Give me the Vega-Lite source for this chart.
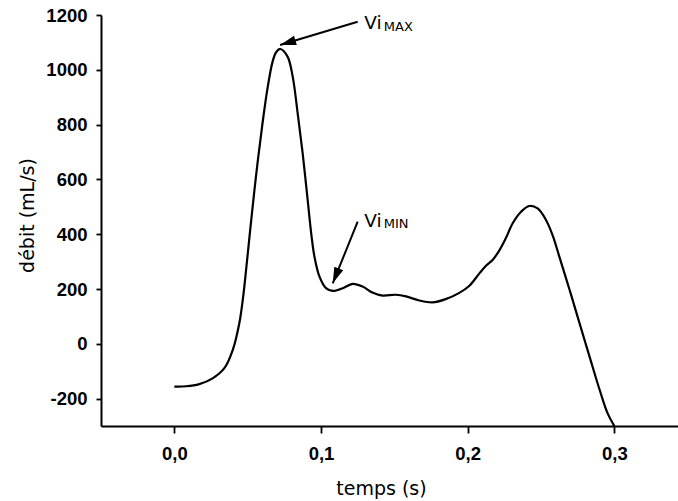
{
  "$schema": "https://vega.github.io/schema/vega-lite/v6.json",
  "width": 577,
  "height": 411,
  "autosize": {"type": "none"},
  "padding": {"left": 101, "top": 15, "right": 0, "bottom": 75},
  "background": "white",
  "config": {
    "view": {"stroke": null},
    "axis": {
      "grid": false,
      "domainColor": "black",
      "domainWidth": 2,
      "tickColor": "black",
      "tickWidth": 1.8,
      "labelFont": "Liberation Sans",
      "labelFontWeight": "bold",
      "labelFontSize": 18.5,
      "labelColor": "black",
      "titleFont": "DejaVu Sans",
      "titleFontWeight": "normal",
      "titleFontSize": 19,
      "titleColor": "black"
    }
  },
  "datasets": {
    "curve": [
      {"t": 0.0, "v": -156}, {"t": 0.008, "v": -155}, {"t": 0.017, "v": -147},
      {"t": 0.0261, "v": -126}, {"t": 0.0341, "v": -89}, {"t": 0.0398, "v": -23},
      {"t": 0.0443, "v": 75}, {"t": 0.047, "v": 175}, {"t": 0.0495, "v": 300},
      {"t": 0.052, "v": 430}, {"t": 0.0545, "v": 555}, {"t": 0.057, "v": 672},
      {"t": 0.060, "v": 800}, {"t": 0.0636, "v": 935}, {"t": 0.067, "v": 1030},
      {"t": 0.0695, "v": 1065}, {"t": 0.0723, "v": 1076}, {"t": 0.0772, "v": 1048},
      {"t": 0.0807, "v": 975}, {"t": 0.0841, "v": 841}, {"t": 0.0875, "v": 695},
      {"t": 0.0909, "v": 525}, {"t": 0.0935, "v": 395}, {"t": 0.0955, "v": 319},
      {"t": 0.0989, "v": 246}, {"t": 0.1034, "v": 203}, {"t": 0.108, "v": 193},
      {"t": 0.1148, "v": 203}, {"t": 0.1216, "v": 219}, {"t": 0.1284, "v": 209},
      {"t": 0.135, "v": 187}, {"t": 0.142, "v": 176}, {"t": 0.151, "v": 179},
      {"t": 0.158, "v": 173}, {"t": 0.167, "v": 158}, {"t": 0.176, "v": 151},
      {"t": 0.185, "v": 163}, {"t": 0.194, "v": 185}, {"t": 0.201, "v": 211},
      {"t": 0.208, "v": 257}, {"t": 0.2125, "v": 285}, {"t": 0.217, "v": 306},
      {"t": 0.2215, "v": 340}, {"t": 0.226, "v": 385}, {"t": 0.2307, "v": 440},
      {"t": 0.2364, "v": 482}, {"t": 0.242, "v": 503}, {"t": 0.2477, "v": 494},
      {"t": 0.2534, "v": 452}, {"t": 0.258, "v": 395}, {"t": 0.2625, "v": 318},
      {"t": 0.2693, "v": 200}, {"t": 0.276, "v": 80}, {"t": 0.283, "v": -45},
      {"t": 0.2898, "v": -165}, {"t": 0.2955, "v": -255}, {"t": 0.300, "v": -300}
    ],
    "arrows": [
      {"sub": "MAX", "t": 0.125, "v": 1175.5, "t2": 0.0721, "v2": 1090.5},
      {"sub": "MIN", "t": 0.125, "v": 445.6, "t2": 0.108, "v2": 220.8}
    ],
    "heads": [
      {"sub": "MAX", "t": 0.0721, "v": 1090.5},
      {"sub": "MIN", "t": 0.108, "v": 220.8}
    ],
    "labels": [
      {"name": "Vi", "sub": "MAX", "t": 0.1295, "v": 1148},
      {"name": "Vi", "sub": "MIN", "t": 0.1295, "v": 427}
    ]
  },
  "encoding": {
    "x": {
      "field": "t", "type": "quantitative",
      "scale": {"domain": [-0.05, 0.3434], "nice": false, "zero": false},
      "axis": {
        "title": "temps (s)",
        "values": [0, 0.1, 0.2, 0.3],
        "labelExpr": "replace(format(datum.value, '.1f'), '.', ',')",
        "tickSize": 7,
        "labelPadding": 11,
        "titleX": 280,
        "titleY": 68,
        "titleAlign": "center",
        "titleBaseline": "alphabetic"
      }
    },
    "y": {
      "field": "v", "type": "quantitative",
      "scale": {"domain": [-300, 1200], "nice": false, "zero": false},
      "axis": {
        "title": "débit (mL/s)",
        "values": [-200, 0, 200, 400, 600, 800, 1000, 1200],
        "labelExpr": "'' + datum.value",
        "tickSize": 5,
        "labelPadding": 9,
        "titleX": -68,
        "titleY": 200,
        "titleAngle": -90,
        "titleAlign": "center",
        "titleBaseline": "alphabetic"
      }
    }
  },
  "layer": [
    {
      "data": {"name": "curve"},
      "mark": {"type": "line", "interpolate": "catmull-rom", "color": "black", "strokeWidth": 2.2, "clip": true}
    },
    {
      "data": {"name": "arrows"},
      "mark": {"type": "rule", "color": "black", "strokeWidth": 2},
      "encoding": {
        "x2": {"field": "t2"},
        "y2": {"field": "v2"}
      }
    },
    {
      "data": {"name": "heads"},
      "transform": [{"filter": "datum.sub === 'MAX'"}],
      "mark": {"type": "point", "shape": "M0,0L-0.3,1L0.3,1Z", "filled": true, "color": "black", "opacity": 1, "size": 1024, "angle": 253.3}
    },
    {
      "data": {"name": "heads"},
      "transform": [{"filter": "datum.sub === 'MIN'"}],
      "mark": {"type": "point", "shape": "M0,0L-0.3,1L0.3,1Z", "filled": true, "color": "black", "opacity": 1, "size": 1024, "angle": 202.1}
    },
    {
      "data": {"name": "labels"},
      "mark": {"type": "text", "align": "left", "baseline": "alphabetic", "font": "DejaVu Sans", "fontSize": 18.5, "color": "black"},
      "encoding": {"text": {"field": "name"}}
    },
    {
      "data": {"name": "labels"},
      "mark": {"type": "text", "align": "left", "baseline": "alphabetic", "font": "DejaVu Sans", "fontSize": 13, "color": "black", "dx": 19.5, "dy": 1.5},
      "encoding": {"text": {"field": "sub"}}
    }
  ]
}
